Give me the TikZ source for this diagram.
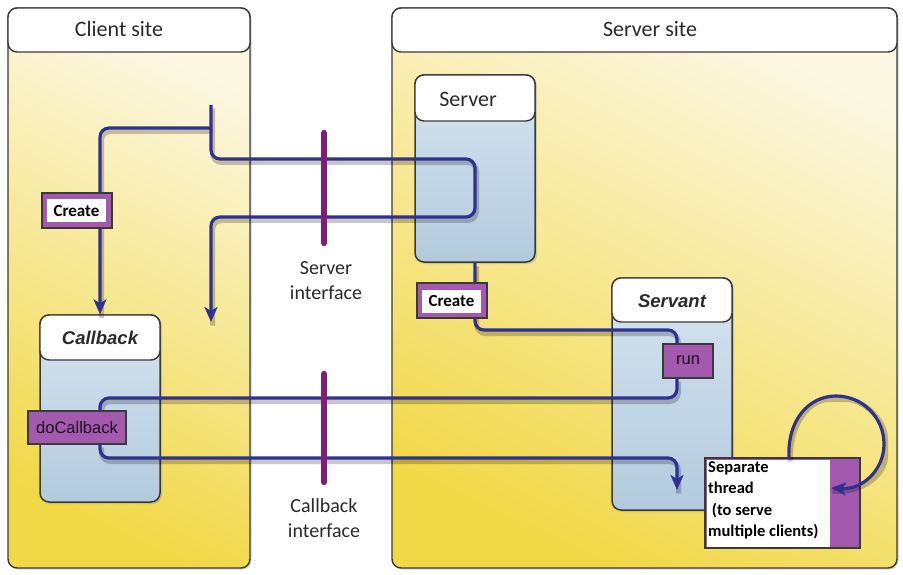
\documentclass[tikz,border=0pt]{standalone}
\usepackage{fontspec}
\setmainfont{Carlito}
\newfontfamily\arialf{Liberation Sans}
\usetikzlibrary{arrows.meta,shadows}
\definecolor{ylight}{HTML}{FCF8E4}
\definecolor{ystrong}{HTML}{F1D846}
\definecolor{bline}{HTML}{2E3192}
\definecolor{purp}{HTML}{A35AAE}
\definecolor{purpdark}{HTML}{7E1E78}
\definecolor{boxtop}{HTML}{D6E4EF}
\definecolor{boxbot}{HTML}{B3CADE}
\definecolor{edge}{HTML}{3A3A3A}
\definecolor{txt}{HTML}{2A2A2A}
\newcommand{\pathA}{(stubTop) -- (211,159) -- (475,159) -- (475,217) -- (211,217) -- (retEnd)}
\newcommand{\pathB}{(tee) -- (100,128) -- (callbackh.north)}
\newcommand{\pathC}{(server.south) -- (475,330) -- (677,330) -- (runTop)}
\newcommand{\pathD}{(runBot) -- (677,398) -- (100,398) -- (dcTop)}
\newcommand{\pathE}{(dcBot) -- (100,458) -- (677,458) -- (servEnd)}
\newcommand{\pathF}{(loopStart) .. controls (787,420) and (809,396) .. (836,396)
  .. controls (862.5,396) and (884,417.5) .. (884,444)
  .. controls (884,470.5) and (862,490) .. (loopEnd)}
\begin{document}
\begin{tikzpicture}[x=1pt,y=-1pt,
  panel/.style={rectangle, rounded corners=9, draw=edge, line width=1.4,
    top color=ylight, bottom color=ystrong, shading angle=-25,
    drop shadow={shadow xshift=1.5pt, shadow yshift=-1.5pt, opacity=0.35}},
  header/.style={rectangle, rounded corners=9, draw=edge, line width=1.4, fill=white},
  objbox/.style={rectangle, rounded corners=9, draw=edge, line width=1.5,
    top color=boxtop, bottom color=boxbot,
    drop shadow={shadow xshift=2pt, shadow yshift=-2pt, opacity=0.3}},
  hdrtext/.style={font=\fontsize{22}{24}\selectfont, text=txt},
  objtitle/.style={font=\arialf\bfseries\itshape\fontsize{18.5}{20}\selectfont, text=txt},
  flow/.style={draw=bline, line width=3.2, rounded corners=9},
  flowshadow/.style={draw=black, opacity=0.22, line width=5, rounded corners=9},
  tip/.style={-{Stealth[length=15pt,width=13pt,inset=4pt]}},
  purpbox/.style={rectangle, fill=purp, draw=edge, line width=1.1, inner sep=0},
  createtxt/.style={rectangle, fill=white, inner sep=0, minimum width=59, minimum height=23,
    font=\bfseries\fontsize{17}{19}\selectfont, text=black},
  methtxt/.style={font=\arialf\fontsize{16.5}{18}\selectfont, text=black!85!purp},
  ifbar/.style={draw=purpdark, line width=6.5, line cap=round},
  iflabel/.style={align=center, font=\fontsize{20}{25}\selectfont, text=txt}
]
\useasboundingbox (0,0) rectangle (903,575);
\fill[white] (0,0) rectangle (903,575);

% site panels
\node[panel, minimum width=242, minimum height=560] (client) at (129,288) {};
\node[panel, minimum width=505, minimum height=560] (serversite) at (644.5,288) {};
\node[header, minimum width=242, minimum height=44] (clienthdr) at (129,30) {};
\node[header, minimum width=505, minimum height=44] (serverhdr) at (644.5,30) {};
\node[hdrtext] (clientlbl) at (119,29) {Client site};
\node[hdrtext] (serverlbl) at (650,29) {Server site};

% object boxes
\node[objbox, minimum width=120, minimum height=187] (server) at (475,168.5) {};
\node[header, minimum width=120, minimum height=46] (serverh) at (475,98) {};
\node[hdrtext] (serverlbl2) at (468,99) {Server};

\node[objbox, minimum width=120, minimum height=187] (callback) at (100,408.5) {};
\node[header, minimum width=120, minimum height=45] (callbackh) at (100,337.5) {};
\node[objtitle] (callbacklbl) at (100,338) {Callback};

\node[objbox, minimum width=120, minimum height=232] (servant) at (672,394) {};
\node[header, minimum width=120, minimum height=44] (servanth) at (672,300) {};
\node[objtitle] (servantlbl) at (672,301) {Servant};

% named coordinates for connectors
\coordinate (stubTop) at (211,105);
\coordinate (tee) at (211,128);
\coordinate (retEnd) at (211,322);
\coordinate (runTop) at (677,344);
\coordinate (runBot) at (677,378);
\coordinate (dcTop) at (100,411);
\coordinate (dcBot) at (100,444);
\coordinate (servEnd) at (677,490);
\coordinate (loopStart) at (789,458);
\coordinate (loopEnd) at (831,488);
\coordinate (siTop) at (324,133);
\coordinate (siBot) at (324,243);
\coordinate (ciTop) at (324,374);
\coordinate (ciBot) at (324,482);

% flow shadows
\begin{scope}[transform canvas={shift={(1.5pt,-3.5pt)}}]
\draw[flowshadow] \pathA;
\draw[flowshadow] \pathB;
\draw[flowshadow] \pathC;
\draw[flowshadow] \pathD;
\draw[flowshadow] \pathE;
\end{scope}

% flows
\draw[flow, tip] \pathA;
\draw[flow, tip] \pathB;
\draw[flow] \pathC;
\draw[flow] \pathD;
\draw[flow, tip] \pathE;

% interface bars
\draw[ifbar] (siTop) -- (siBot);
\draw[ifbar] (ciTop) -- (ciBot);
\node[iflabel] (silbl) at (326,281) {Server\\interface};
\node[iflabel] (cilbl) at (324,518) {Callback\\interface};

% method / create boxes
\node[purpbox, minimum width=70, minimum height=35] (create1) at (77,210.5) {};
\node[createtxt] (create1t) at (76.5,211) {Create};
\node[purpbox, minimum width=70, minimum height=35] (create2) at (452,300.5) {};
\node[createtxt] (create2t) at (451.5,301) {Create};
\node[purpbox, minimum width=98, minimum height=33] (docb) at (77,427.5) {};
\node[methtxt] (docbt) at (77,427.5) {doCallback};
\node[purpbox, minimum width=50, minimum height=34] (run) at (688,361) {};
\node[methtxt] (runt) at (688,360) {run};

% separate thread
\node[purpbox, minimum width=155, minimum height=90] (thread) at (782.5,503) {};
\node[rectangle, fill=white, inner sep=0, minimum width=123, minimum height=87] (threadw) at (768.5,503.5) {};
\node[anchor=north west, align=left, inner sep=0, text=black,
  font=\bfseries\fontsize{16.5}{21.5}\selectfont] (threadt) at (708,461)
  {Separate\\thread\\\ (to serve\\multiple clients)};

% self loop
\begin{scope}[transform canvas={shift={(1.5pt,-3.5pt)}}]
\draw[flowshadow] \pathF;
\end{scope}
\draw[flow, tip, rounded corners=0] \pathF;
\end{tikzpicture}
\end{document}
